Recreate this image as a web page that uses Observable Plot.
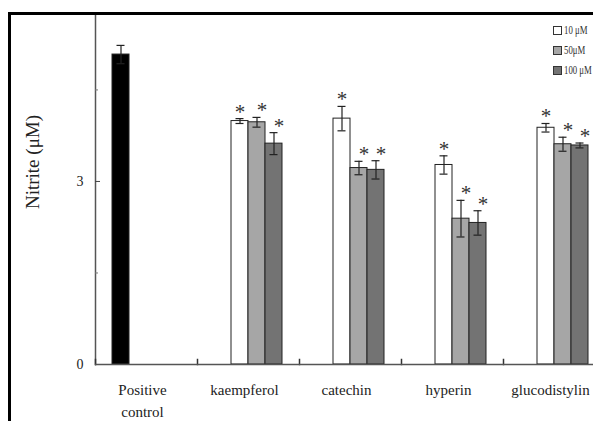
<!DOCTYPE html>
<html><head><meta charset="utf-8">
<script src="https://cdn.jsdelivr.net/npm/d3@7"></script>
<script src="https://cdn.jsdelivr.net/npm/@observablehq/plot@0.6"></script>
<style>
html,body{margin:0;padding:0;background:#fff;overflow:hidden;width:593px;height:421px}
#wrap{position:relative;width:593px;height:421px;overflow:hidden}
#chart{position:absolute;left:0;top:0;width:610px}
#chart svg{max-width:none !important;width:610px;height:421px}
#border{position:absolute;left:8px;top:12px;width:800px;height:600px;border-left:3px solid #000;border-top:3px solid #000;pointer-events:none}
#legend{position:absolute;left:553px;top:20px;font-family:"Liberation Serif",serif;font-size:12.5px;color:#333}
#legend .row{display:flex;align-items:center;height:20px;white-space:nowrap}
#legend .sw{display:inline-block;width:7px;height:7px;border:1px solid #333;margin-right:2px;flex:none}
#legend .tx{display:inline-block;transform:scaleX(0.7);transform-origin:left center}
#ylabel{position:absolute;left:33px;top:162px;transform:translate(-50%,-50%) rotate(-90deg);font-family:"Liberation Serif",serif;font-size:19px;color:#222;white-space:nowrap}
</style></head><body>
<div id="wrap"><div id="chart"></div><div id="border"></div><div id="legend"></div><div id="ylabel"></div></div>
<script>
const categories = ["Positive control", "kaempferol", "catechin", "hyperin", "glucodistylin"];
const categoryLabels = ["Positive\ncontrol", "kaempferol", "catechin", "hyperin", "glucodistylin"];
const series = ["Positive control", "10 μM", "50μM", "100 μM"];
const seriesColors = ["#000000", "#ffffff", "#a6a6a6", "#737373"];
const legendSeries = ["10 μM", "50μM", "100 μM"];
const yTitle = "Nitrite (μM)";

const positiveValue = 5.08;
const positiveErr = 0.15;
const compounds = ["kaempferol", "catechin", "hyperin", "glucodistylin"];
const values10 = [3.99, 4.03, 3.27, 3.88];
const err10 = [0.04, 0.20, 0.15, 0.07];
const values50 = [3.97, 3.22, 2.39, 3.61];
const err50 = [0.08, 0.11, 0.30, 0.115];
const values100 = [3.62, 3.19, 2.32, 3.59];
const err100 = [0.18, 0.15, 0.20, 0.04];
const yTicks = [0, 3];
const yMinorTicks = [1.5, 4.5];

const rows = [{cat: "Positive control", series: "Positive control", value: positiveValue, err: positiveErr, star: false}];
compounds.forEach((c, i) => {
  rows.push({cat: c, series: "10 μM", value: values10[i], err: err10[i], star: true});
  rows.push({cat: c, series: "50μM", value: values50[i], err: err50[i], star: true});
  rows.push({cat: c, series: "100 μM", value: values100[i], err: err100[i], star: true});
});

const font = "Liberation Serif, Times New Roman, serif";
const chart = Plot.plot({
  width: 610, height: 421,
  marginLeft: 93, marginRight: 3, marginTop: 15, marginBottom: 57,
  fx: {domain: categories, padding: 0, label: null},
  x: {domain: series, paddingInner: 0, paddingOuter: 1, axis: null},
  y: {domain: [0, 5.72], axis: null},
  color: {domain: series, range: seriesColors},
  style: {fontFamily: font, background: "transparent", color: "#222"},
  marks: [
    Plot.frame({anchor: "left", facetAnchor: "left", stroke: "#555", strokeWidth: 1.5}),
    Plot.frame({anchor: "left", insetTop: 344, stroke: "#333", strokeWidth: 1.5}),
    Plot.barY(rows, {fx: "cat", x: "series", y: "value", fill: "series", stroke: "#222", strokeWidth: 1}),
    Plot.ruleX(rows, {fx: "cat", x: "series", y1: d => d.value - d.err, y2: d => d.value + d.err, stroke: "#222", strokeWidth: 1.2}),
    Plot.tickY(rows, {fx: "cat", x: "series", y: d => d.value + d.err, insetLeft: 4.5, insetRight: 4.5, stroke: "#222", strokeWidth: 1.2}),
    Plot.tickY(rows, {fx: "cat", x: "series", y: d => d.value - d.err, insetLeft: 4.5, insetRight: 4.5, stroke: "#222", strokeWidth: 1.2}),
    Plot.ruleY([0], {stroke: "#555", strokeWidth: 1.5}),
    Plot.axisY({ticks: yTicks, tickSize: 0, tickPadding: 12, fontSize: 14, fill: "#222", label: null, tickFormat: d => String(d)}),
    Plot.axisY({ticks: [3], tickSize: -5, stroke: "#444", label: null, tickFormat: () => ""}),
    Plot.axisY({ticks: yMinorTicks, tickSize: -3, stroke: "#777", label: null, tickFormat: () => ""}),
    Plot.axisFx({anchor: "bottom", tickSize: 0, tickPadding: 15, fontSize: 15, lineHeight: 1.45, dx: -4, label: null, fill: "#222",
      tickFormat: d => categoryLabels[categories.indexOf(d)]}),
    Plot.text(rows.filter(d => d.star && d.series === "10 μM"), {fx: "cat", x: "series", y: d => d.value + d.err, text: () => "*", lineAnchor: "bottom", fontSize: 21, fill: "#333"}),
    Plot.text(rows.filter(d => d.star && d.series !== "10 μM"), {fx: "cat", x: "series", y: d => d.value + d.err, text: () => "*", lineAnchor: "bottom", dx: 5, fontSize: 21, fill: "#333"})
  ]
});
document.getElementById("chart").appendChild(chart);
document.getElementById("ylabel").textContent = yTitle;

const legend = document.getElementById("legend");
legendSeries.forEach(s => {
  const row = document.createElement("div");
  row.className = "row";
  const sw = document.createElement("span");
  sw.className = "sw";
  sw.style.background = seriesColors[series.indexOf(s)];
  row.appendChild(sw);
  const tx = document.createElement("span");
  tx.className = "tx";
  tx.textContent = s;
  row.appendChild(tx);
  legend.appendChild(row);
});
</script>
</body></html>
